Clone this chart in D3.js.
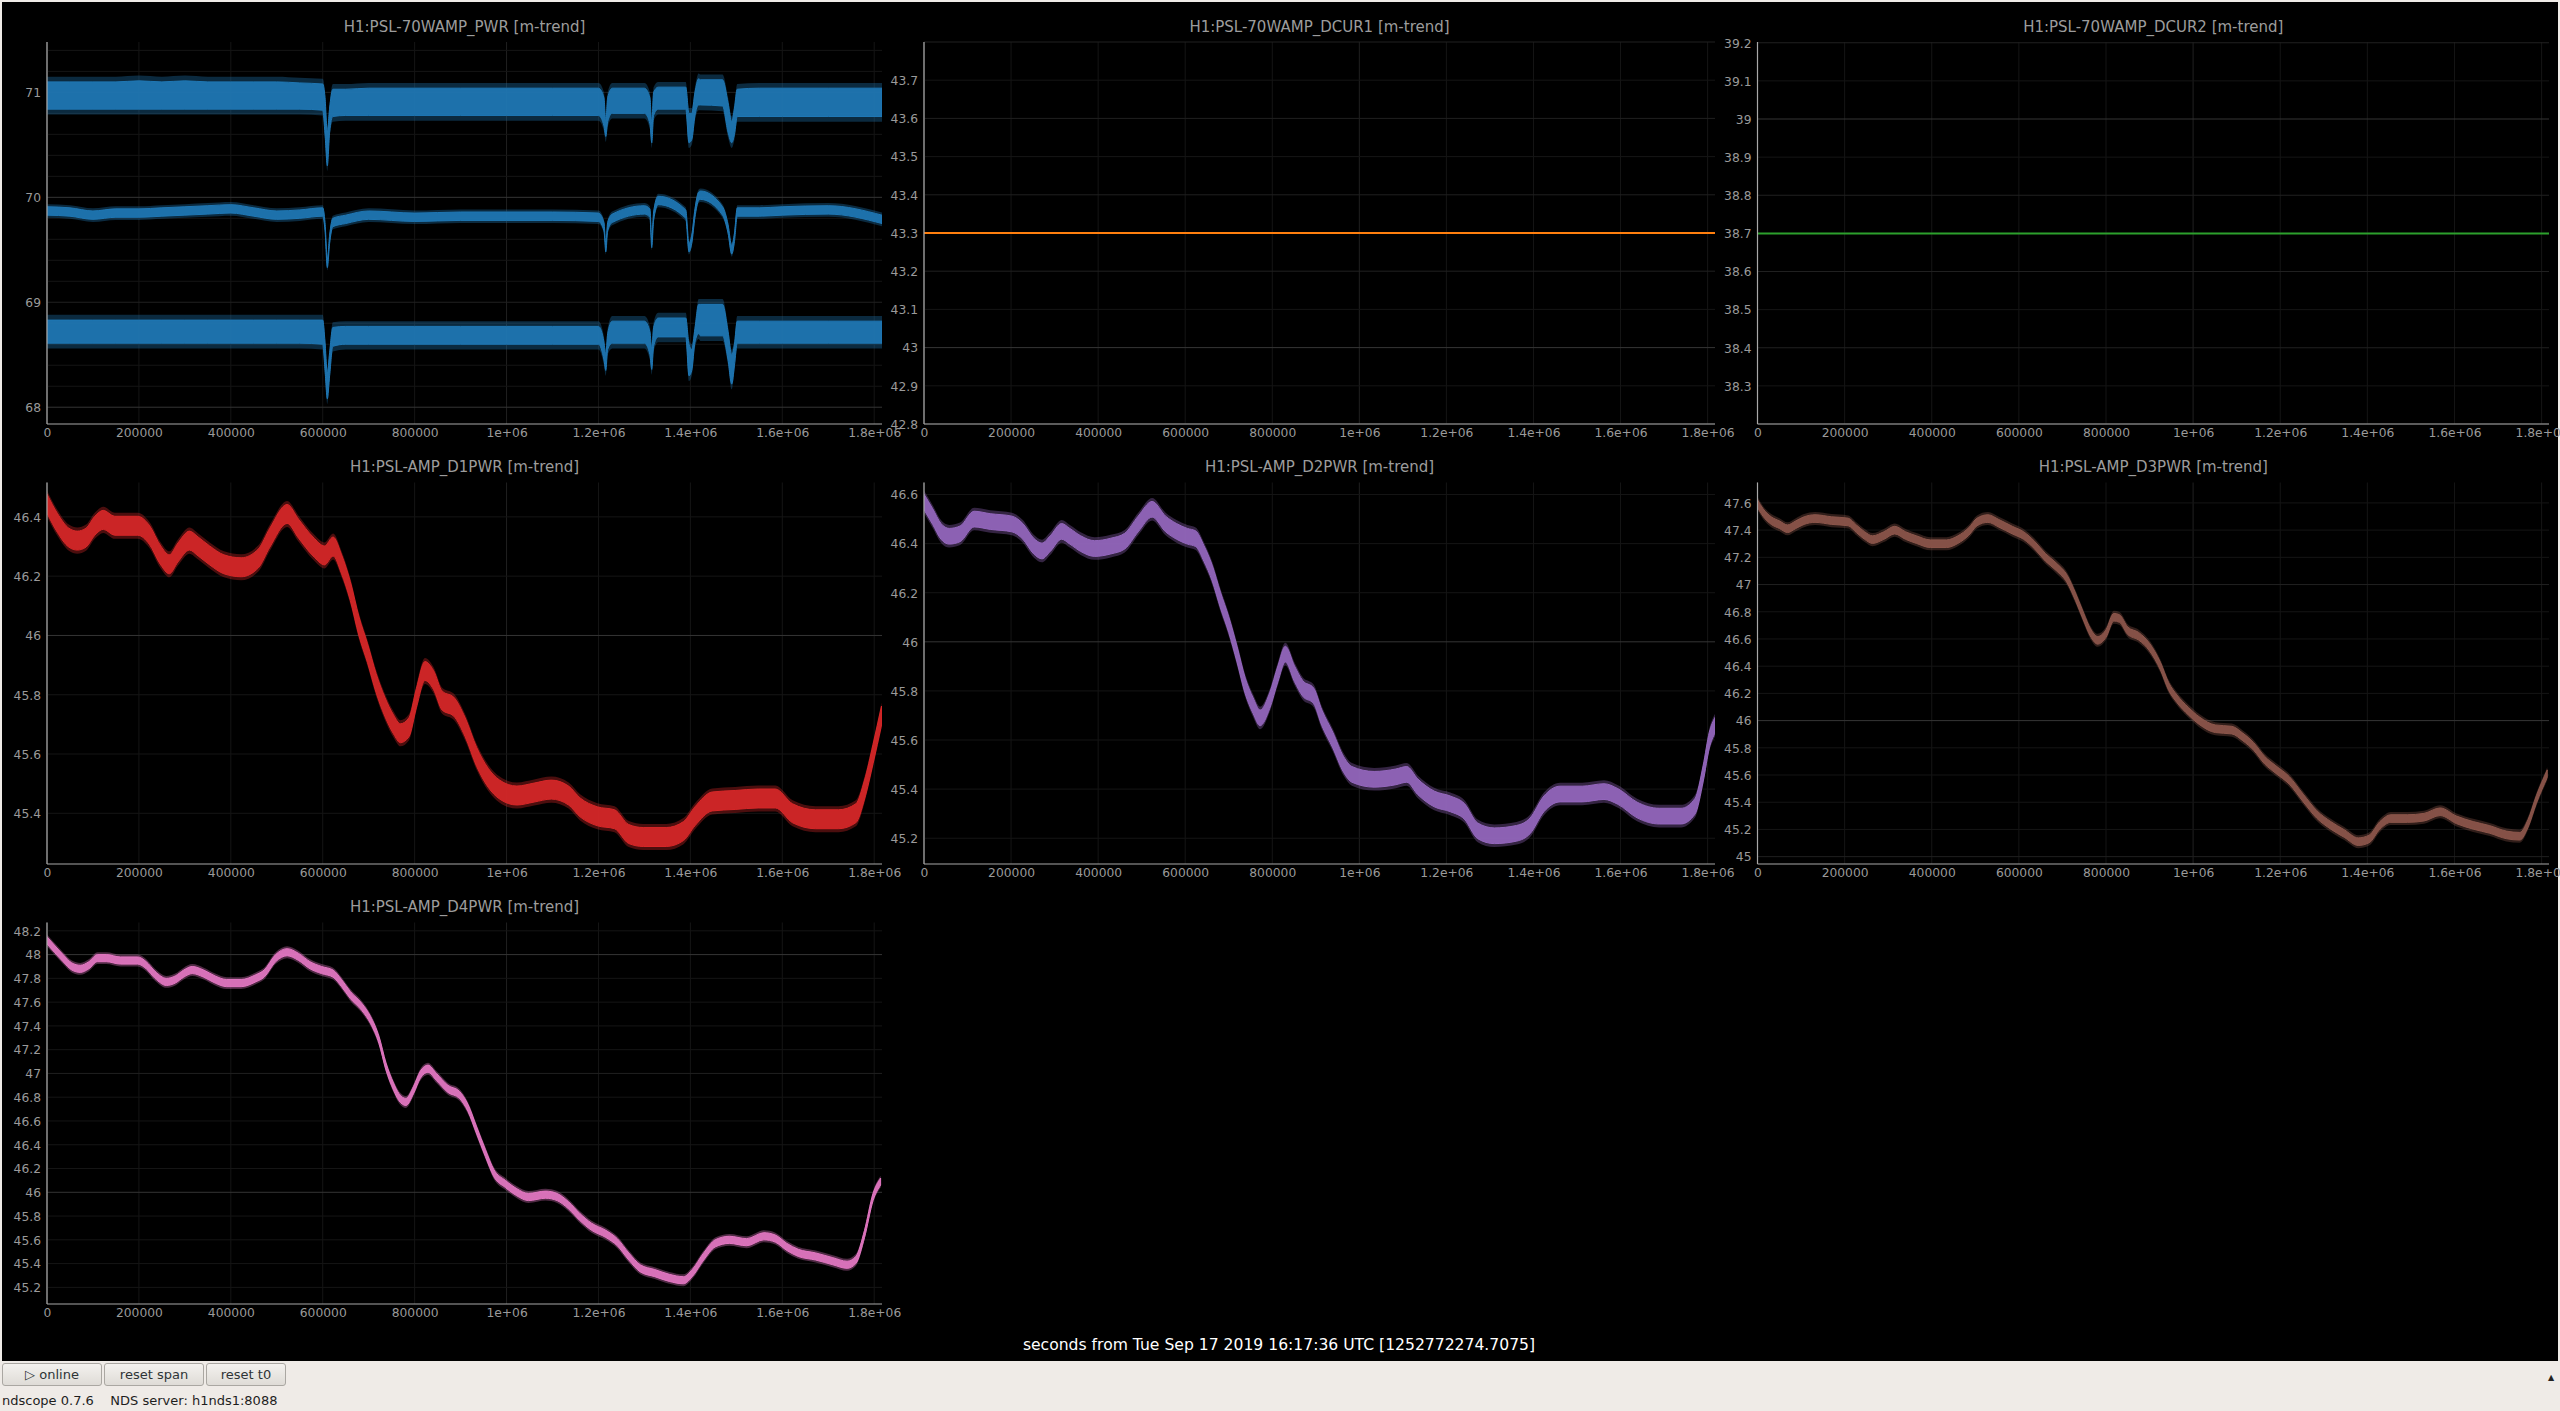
<!DOCTYPE html>
<html>
<head>
<meta charset="utf-8">
<script src="https://cdn.jsdelivr.net/npm/d3@7"></script>
<style>
    body { margin: 0; background: #efebe7; overflow: hidden; }
    svg { display: block; font-family: "DejaVu Sans", sans-serif; }
</style>
</head>
<body>
<svg id="scope" width="2560" height="1411"></svg>
<script>
// ---- x axis (seconds from t0) ----
var xMax = 1817000;
var xTickValues = [0, 200000, 400000, 600000, 800000, 1000000, 1200000, 1400000, 1600000, 1800000];
var xTickLabels = ["0", "200000", "400000", "600000", "800000", "1e+06", "1.2e+06", "1.4e+06", "1.6e+06", "1.8e+06"];

// ---- H1:PSL-70WAMP_PWR : max / mean / min trend ----
var pwrT = [0, 50000, 100000, 150000, 200000, 250000, 300000, 350000, 400000, 450000, 500000, 550000, 600000,
    605000, 610000, 615000, 622000, 650000, 700000, 800000, 900000, 1000000, 1100000, 1200000, 1212000, 1216000,
    1220000, 1230000, 1300000, 1312000, 1316000, 1320000, 1330000, 1390000, 1397000, 1403000, 1410000, 1418000,
    1422000, 1470000, 1482000, 1490000, 1496000, 1502000, 1550000, 1600000, 1700000, 1817000];
var pwrMaxHi = [71.10, 71.10, 71.10, 71.10, 71.11, 71.10, 71.11, 71.10, 71.10, 71.10, 71.10, 71.09, 71.08,
    70.95, 70.62, 70.85, 71.03, 71.03, 71.04, 71.04, 71.04, 71.04, 71.04, 71.04, 70.95, 70.72,
    70.95, 71.04, 71.04, 70.95, 70.70, 71.00, 71.05, 71.05, 70.80, 70.80, 71.00, 71.13,
    71.12, 71.12, 70.90, 70.72, 70.85, 71.03, 71.04, 71.04, 71.04, 71.04];
var pwrMaxLo = [70.84, 70.84, 70.84, 70.84, 70.84, 70.84, 70.84, 70.84, 70.84, 70.84, 70.84, 70.84, 70.83,
    70.60, 70.30, 70.62, 70.77, 70.78, 70.78, 70.78, 70.78, 70.78, 70.78, 70.78, 70.68, 70.58,
    70.72, 70.80, 70.80, 70.70, 70.52, 70.78, 70.84, 70.84, 70.52, 70.55, 70.78, 70.88,
    70.88, 70.87, 70.62, 70.52, 70.60, 70.77, 70.77, 70.77, 70.77, 70.77];
var pwrMean = [69.87, 69.86, 69.83, 69.85, 69.85, 69.86, 69.87, 69.88, 69.89, 69.86, 69.83, 69.84, 69.86,
    69.72, 69.37, 69.60, 69.76, 69.79, 69.83, 69.81, 69.82, 69.82, 69.82, 69.81, 69.72, 69.52,
    69.72, 69.80, 69.88, 69.85, 69.56, 69.82, 69.97, 69.84, 69.52, 69.60, 69.85, 70.01,
    70.02, 69.87, 69.70, 69.50, 69.62, 69.86, 69.86, 69.87, 69.88, 69.79];
var pwrMinHi = [68.83, 68.83, 68.83, 68.83, 68.83, 68.83, 68.83, 68.83, 68.83, 68.83, 68.83, 68.83, 68.83,
    68.62, 68.32, 68.52, 68.76, 68.77, 68.77, 68.77, 68.77, 68.77, 68.77, 68.77, 68.62, 68.50,
    68.70, 68.82, 68.82, 68.72, 68.55, 68.76, 68.85, 68.85, 68.60, 68.55, 68.75, 68.98,
    68.98, 68.98, 68.72, 68.50, 68.60, 68.82, 68.82, 68.82, 68.82, 68.82];
var pwrMinLo = [68.61, 68.61, 68.61, 68.61, 68.61, 68.61, 68.61, 68.61, 68.61, 68.61, 68.61, 68.61, 68.60,
    68.35, 68.08, 68.30, 68.58, 68.60, 68.60, 68.60, 68.60, 68.60, 68.60, 68.60, 68.45, 68.35,
    68.55, 68.61, 68.61, 68.50, 68.36, 68.58, 68.67, 68.67, 68.30, 68.35, 68.62, 68.70,
    68.68, 68.68, 68.45, 68.22, 68.40, 68.61, 68.61, 68.61, 68.61, 68.61];

// ---- DCUR1 / DCUR2 (flat) ----
var dcurT = [0, 1817000];
var dcur1 = [43.3, 43.3];
var dcur2 = [38.7, 38.7];

// ---- AMP D1..D4 PWR ----
var d1T = [0, 22500, 47500, 66000, 85000, 104000, 122500, 147500, 197500, 222500, 247500, 266000, 285000, 310000,
    329000, 354000, 385000, 422500, 460000, 485000, 522500, 547500, 579000, 604000, 622500, 641000, 660000, 679000,
    697500, 716000, 735000, 754000, 769000, 787500, 804000, 822500, 841000, 860000, 885000, 910000, 935000, 960000,
    985000, 1022500, 1060000, 1097500, 1135000, 1160000, 1197500, 1235000, 1266000, 1297500, 1347500, 1385000,
    1410000, 1447500, 1497500, 1547500, 1585000, 1622500, 1672500, 1722500, 1760000, 1779000, 1797500, 1816000];
var d1 = [46.445, 46.38, 46.33, 46.32, 46.33, 46.37, 46.39, 46.37, 46.37, 46.34, 46.27, 46.24, 46.28, 46.32,
    46.30, 46.27, 46.24, 46.23, 46.26, 46.33, 46.41, 46.36, 46.30, 46.27, 46.30, 46.24, 46.15, 46.03,
    45.94, 45.84, 45.76, 45.70, 45.67, 45.69, 45.79, 45.88, 45.85, 45.78, 45.76, 45.69, 45.59, 45.52,
    45.48, 45.46, 45.47, 45.48, 45.46, 45.42, 45.39, 45.38, 45.33, 45.32, 45.32, 45.34,
    45.39, 45.44, 45.445, 45.45, 45.45, 45.40, 45.38, 45.38, 45.40, 45.48, 45.60, 45.73];

var d2T = [0, 20000, 39000, 58000, 83000, 115000, 152000, 202000, 227000, 252000, 271000, 290000, 316000, 335000,
    360000, 392000, 429000, 461000, 492000, 524000, 555000, 580000, 605000, 624000, 643000, 662000, 681000, 700000,
    719000, 738000, 756000, 772000, 794000, 813000, 830000, 851000, 870000, 895000, 914000, 939000, 964000, 983000,
    1034000, 1084000, 1109000, 1134000, 1172000, 1209000, 1241000, 1272000, 1310000, 1361000, 1392000, 1424000,
    1461000, 1512000, 1562000, 1594000, 1638000, 1689000, 1739000, 1771000, 1790000, 1804000, 1817000];
var d2 = [46.57, 46.51, 46.45, 46.43, 46.44, 46.50, 46.49, 46.48, 46.45, 46.39, 46.37, 46.40, 46.45, 46.43,
    46.40, 46.38, 46.39, 46.41, 46.48, 46.54, 46.48, 46.45, 46.43, 46.42, 46.36, 46.28, 46.17, 46.07,
    45.95, 45.82, 45.74, 45.69, 45.76, 45.87, 45.95, 45.87, 45.81, 45.78, 45.69, 45.60, 45.50, 45.46,
    45.44, 45.45, 45.46, 45.41, 45.36, 45.34, 45.31, 45.23, 45.21, 45.22, 45.25, 45.34,
    45.38, 45.38, 45.39, 45.37, 45.315, 45.29, 45.29, 45.33, 45.465, 45.60, 45.66];

var d3T = [0, 12600, 31500, 50400, 69000, 88000, 107000, 132000, 170000, 208000, 227000, 246000, 264000, 290000,
    315000, 340000, 365000, 397000, 434000, 460000, 485000, 504000, 529000, 554000, 585000, 611000, 636000, 661000,
    686000, 711000, 730000, 749000, 764000, 781000, 800000, 818000, 831000, 850000, 875000, 900000, 925000, 944000,
    963000, 989000, 1014000, 1051000, 1089000, 1114000, 1139000, 1164000, 1190000, 1221000, 1253000, 1284000,
    1316000, 1347000, 1379000, 1404000, 1429000, 1454000, 1492000, 1530000, 1567000, 1605000, 1643000, 1681000,
    1719000, 1750000, 1769000, 1788000, 1813000];
var d3v = [47.595, 47.53, 47.47, 47.44, 47.41, 47.44, 47.47, 47.485, 47.47, 47.46, 47.41, 47.36, 47.33, 47.36,
    47.40, 47.36, 47.33, 47.30, 47.30, 47.33, 47.39, 47.46, 47.485, 47.45, 47.40, 47.36, 47.29, 47.20,
    47.13, 47.04, 46.91, 46.76, 46.65, 46.59, 46.64, 46.76, 46.75, 46.66, 46.62, 46.54, 46.40, 46.25,
    46.16, 46.07, 46.00, 45.94, 45.93, 45.88, 45.81, 45.71, 45.64, 45.56, 45.43, 45.31,
    45.23, 45.17, 45.11, 45.13, 45.23, 45.28, 45.28, 45.29, 45.33, 45.27, 45.23, 45.20,
    45.16, 45.15, 45.245, 45.42, 45.61];

var d4T = [0, 16000, 35000, 54000, 72500, 91000, 110000, 129000, 160000, 197500, 216000, 235000, 260000, 279000,
    297500, 316000, 341000, 366000, 391000, 422500, 454000, 472500, 497500, 522500, 547500, 572500, 597500, 622500,
    641000, 660000, 685000, 704000, 722500, 737500, 754000, 766000, 781000, 797500, 812500, 829000, 847500, 872500,
    897500, 916000, 935000, 954000, 972500, 997500, 1022500, 1047500, 1085000, 1110000, 1135000, 1160000, 1185000,
    1216000, 1241000, 1266000, 1291000, 1322500, 1354000, 1385000, 1404000, 1429000, 1454000, 1485000, 1522500,
    1560000, 1585000, 1610000, 1635000, 1672500, 1710000, 1741000, 1760000, 1779000, 1797500, 1814000];
var d4 = [48.12, 48.05, 47.97, 47.90, 47.88, 47.91, 47.97, 47.97, 47.95, 47.95, 47.91, 47.83, 47.77, 47.79,
    47.84, 47.87, 47.84, 47.79, 47.76, 47.76, 47.80, 47.84, 47.97, 48.02, 47.98, 47.91, 47.87, 47.84,
    47.76, 47.66, 47.56, 47.45, 47.28, 47.06, 46.89, 46.80, 46.76, 46.86, 46.99, 47.04, 46.97, 46.87,
    46.82, 46.71, 46.52, 46.33, 46.16, 46.07, 46.00, 45.96, 45.98, 45.96, 45.89, 45.79, 45.71,
    45.65, 45.58, 45.46, 45.36, 45.32, 45.28, 45.26, 45.32, 45.46, 45.57, 45.60, 45.58,
    45.63, 45.61, 45.54, 45.49, 45.46, 45.42, 45.39, 45.43, 45.65, 45.96, 46.09];

// ---- y ranges and tick labels ----
var pwrRange = [67.84, 71.48],   pwrTicks = [68, 69, 70, 71];
var dcur1Range = [42.8, 43.8],   dcur1Ticks = [42.8, 42.9, 43, 43.1, 43.2, 43.3, 43.4, 43.5, 43.6, 43.7];
var dcur2Range = [38.2, 39.202], dcur2Ticks = [38.3, 38.4, 38.5, 38.6, 38.7, 38.8, 38.9, 39, 39.1, 39.2];
var d1Range = [45.229, 46.516],  d1Ticks = [45.4, 45.6, 45.8, 46, 46.2, 46.4];
var d2Range = [45.095, 46.649],  d2Ticks = [45.2, 45.4, 45.6, 45.8, 46, 46.2, 46.4, 46.6];
var d3Range = [44.946, 47.75],   d3Ticks = [45, 45.2, 45.4, 45.6, 45.8, 46, 46.2, 46.4, 46.6, 46.8, 47, 47.2, 47.4, 47.6];
var d4Range = [45.06, 48.27],    d4Ticks = [45.2, 45.4, 45.6, 45.8, 46, 46.2, 46.4, 46.6, 46.8, 47, 47.2, 47.4, 47.6, 47.8, 48, 48.2];

function zip(t, v) { return t.map(function (d, i) { return {t: d, v: v[i]}; }); }
function band(t, lo, hi) { return t.map(function (d, i) { return {t: d, lo: lo[i], hi: hi[i]}; }); }

// halo = faint noise envelope drawn around each trend band (y units)
var panels = [
    {title: "H1:PSL-70WAMP_PWR [m-trend]", col: 0, row: 0, range: pwrRange, ticks: pwrTicks, grid: [2, 1, 0.2],
        traces: [
            {type: "band", data: band(pwrT, pwrMaxLo, pwrMaxHi), halo: 0.05, color: "#1f77b4"},
            {type: "spread", data: zip(pwrT, pwrMean), spread: 0.04, halo: 0.025, color: "#1f77b4"},
            {type: "band", data: band(pwrT, pwrMinLo, pwrMinHi), halo: 0.05, color: "#1f77b4"}
        ]},
    {title: "H1:PSL-70WAMP_DCUR1 [m-trend]", col: 1, row: 0, range: dcur1Range, ticks: dcur1Ticks, grid: [1, 0.2, 0.1],
        traces: [{type: "line", data: zip(dcurT, dcur1), color: "#ff7f0e"}]},
    {title: "H1:PSL-70WAMP_DCUR2 [m-trend]", col: 2, row: 0, range: dcur2Range, ticks: dcur2Ticks, grid: [1, 0.2, 0.1],
        traces: [{type: "line", data: zip(dcurT, dcur2), color: "#2ca02c"}]},
    {title: "H1:PSL-AMP_D1PWR [m-trend]", col: 0, row: 1, range: d1Range, ticks: d1Ticks, grid: [2, 1, 0.2],
        traces: [{type: "spread", data: zip(d1T, d1), spread: 0.032, halo: 0.012, color: "#d62728"}]},
    {title: "H1:PSL-AMP_D2PWR [m-trend]", col: 1, row: 1, range: d2Range, ticks: d2Ticks, grid: [2, 1, 0.2],
        traces: [{type: "spread", data: zip(d2T, d2), spread: 0.032, halo: 0.014, color: "#9467bd"}]},
    {title: "H1:PSL-AMP_D3PWR [m-trend]", col: 2, row: 1, range: d3Range, ticks: d3Ticks, grid: [2, 1, 0.2],
        traces: [{type: "spread", data: zip(d3T, d3v), spread: 0.028, halo: 0.02, color: "#8c564b"}]},
    {title: "H1:PSL-AMP_D4PWR [m-trend]", col: 0, row: 2, range: d4Range, ticks: d4Ticks, grid: [2, 1, 0.2],
        traces: [{type: "spread", data: zip(d4T, d4), spread: 0.03, halo: 0.02, color: "#e377c2"}]}
];

// layout of the ndscope grid
var colLeft = [47, 924, 1757.5], colRight = [882, 1715, 2549];
var rowTop = [42, 482.5, 922.5], rowBottom = [424, 864, 1304];
var gridColors = ["#353535", "#202020", "#151515"];

var svg = d3.select("#scope");

// black plot canvas with thin window frame
svg.append("rect").attr("x", 2).attr("y", 2).attr("width", 2556).attr("height", 1359).attr("fill", "#000");

var defs = svg.append("defs");

function isMult(v, s) {
    var q = v / s;
    return Math.abs(q - Math.round(q)) < 1e-6;
}

function gridLevel(v, steps) {
    if (isMult(v, steps[0])) return 0;
    if (isMult(v, steps[1])) return 1;
    return 2;
}

panels.forEach(function (p, pi) {
    var left = colLeft[p.col], right = colRight[p.col];
    var top = rowTop[p.row], bottom = rowBottom[p.row];

    var x = d3.scaleLinear().domain([0, xMax]).range([left, right]);
    var y = d3.scaleLinear().domain(p.range).range([bottom, top]);

    var g = svg.append("g").attr("class", "panel");

    defs.append("clipPath").attr("id", "clip" + pi)
        .append("rect").attr("x", left).attr("y", top).attr("width", right - left).attr("height", bottom - top);

    // grid: x
    var xSteps = [2000000, 1000000, 200000];
    var xGrid = d3.range(0, xMax, xSteps[2]);
    g.append("g").selectAll("line").data(xGrid).join("line")
        .attr("x1", function (d) { return x(d); }).attr("x2", function (d) { return x(d); })
        .attr("y1", top).attr("y2", bottom)
        .attr("stroke", function (d) { return gridColors[gridLevel(d, xSteps)]; })
        .attr("stroke-width", 1);

    // grid: y
    var fine = p.grid[2];
    var start = Math.ceil(p.range[0] / fine - 1e-6);
    var end = Math.floor(p.range[1] / fine + 1e-6);
    var yGrid = d3.range(start, end + 1).map(function (k) { return +(k * fine).toFixed(4); });
    g.append("g").selectAll("line").data(yGrid).join("line")
        .attr("x1", left).attr("x2", right)
        .attr("y1", function (d) { return y(d); }).attr("y2", function (d) { return y(d); })
        .attr("stroke", function (d) { return gridColors[gridLevel(d, p.grid)]; })
        .attr("stroke-width", 1);

    // traces
    var plot = g.append("g").attr("clip-path", "url(#clip" + pi + ")");
    p.traces.forEach(function (tr) {
        if (tr.type === "line") {
            plot.append("path").datum(tr.data)
                .attr("fill", "none").attr("stroke", tr.color).attr("stroke-width", 2)
                .attr("d", d3.line().x(function (d) { return x(d.t); }).y(function (d) { return y(d.v); }));
            return;
        }
        function lo(d) { return tr.type === "band" ? d.lo : d.v - tr.spread; }
        function hi(d) { return tr.type === "band" ? d.hi : d.v + tr.spread; }

        // faint noise envelope
        var halo = d3.area().curve(d3.curveMonotoneX).x(function (d) { return x(d.t); })
            .y0(function (d) { return y(lo(d) - tr.halo); })
            .y1(function (d) { return y(hi(d) + tr.halo); });
        plot.append("path").datum(tr.data)
            .attr("fill", tr.color).attr("fill-opacity", 0.35)
            .attr("d", halo);

        var area = d3.area().curve(d3.curveMonotoneX).x(function (d) { return x(d.t); })
            .y0(function (d) { return y(lo(d)); })
            .y1(function (d) { return y(hi(d)); });
        plot.append("path").datum(tr.data)
            .attr("fill", tr.color).attr("fill-opacity", 0.92)
            .attr("stroke", tr.color).attr("stroke-width", 1)
            .attr("d", area);
    });

    // axes
    var yAxis = d3.axisLeft(y).tickValues(p.ticks).tickSize(0).tickPadding(6)
        .tickFormat(function (d) { return String(+d.toFixed(3)); });
    var ya = g.append("g").attr("transform", "translate(" + left + ",0)").call(yAxis);
    ya.select(".domain").attr("stroke", "#a8a8a8").attr("stroke-width", 1.2).attr("d", "M0," + top + "V" + bottom);
    ya.selectAll("text").attr("fill", "#9a9a9a").attr("font-size", "12.3px")
        .attr("font-family", "DejaVu Sans").attr("dy", "0.35em");

    var xAxis = d3.axisBottom(x).tickValues(xTickValues).tickSize(0).tickPadding(4)
        .tickFormat(function (d, i) { return xTickLabels[i]; });
    var xa = g.append("g").attr("transform", "translate(0," + bottom + ")").call(xAxis);
    xa.select(".domain").attr("stroke", "#a8a8a8").attr("stroke-width", 1.2).attr("d", "M" + left + ",0H" + right);
    xa.selectAll("text").attr("fill", "#9a9a9a").attr("font-size", "12.3px").attr("font-family", "DejaVu Sans");

    // title
    g.append("text")
        .attr("x", (left + right) / 2).attr("y", top - 15)
        .attr("text-anchor", "middle").attr("dominant-baseline", "middle")
        .attr("fill", "#9c9c9c").attr("font-size", "15px")
        .text(p.title);
});

// time label under the grid
svg.append("text")
    .attr("x", 1279).attr("y", 1345)
    .attr("text-anchor", "middle").attr("dominant-baseline", "middle")
    .attr("fill", "#ffffff").attr("font-size", "15.6px")
    .text("seconds from Tue Sep 17 2019 16:17:36 UTC [1252772274.7075]");

// ---- control bar ----
var grad = defs.append("linearGradient").attr("id", "btnGrad").attr("x1", 0).attr("y1", 0).attr("x2", 0).attr("y2", 1);
grad.append("stop").attr("offset", "0%").attr("stop-color", "#f4f2ef");
grad.append("stop").attr("offset", "100%").attr("stop-color", "#dedbd6");

var buttons = [
    {label: "\u25B7 online", x: 2, w: 99},
    {label: "reset span", x: 104, w: 99},
    {label: "reset t0", x: 206, w: 79}
];
var bar = svg.append("g");
bar.selectAll("rect").data(buttons).join("rect")
    .attr("x", function (d) { return d.x + 0.5; }).attr("y", 1363.5)
    .attr("width", function (d) { return d.w; }).attr("height", 22)
    .attr("rx", 2.5).attr("fill", "url(#btnGrad)").attr("stroke", "#aaa7a2");
bar.selectAll("text").data(buttons).join("text")
    .attr("x", function (d) { return d.x + d.w / 2 + 0.5; }).attr("y", 1375)
    .attr("text-anchor", "middle").attr("dominant-baseline", "middle")
    .attr("fill", "#2e3436").attr("font-size", "13px")
    .text(function (d) { return d.label; });

svg.append("text").attr("x", 2551).attr("y", 1377)
    .attr("text-anchor", "middle").attr("dominant-baseline", "middle")
    .attr("fill", "#222").attr("font-size", "8px").text("\u25B2");

svg.append("text").attr("x", 2).attr("y", 1401)
    .attr("dominant-baseline", "middle")
    .attr("fill", "#1e1e1e").attr("font-size", "13px")
    .attr("xml:space", "preserve")
    .text("ndscope 0.7.6    NDS server: h1nds1:8088");
</script>
</body>
</html>
